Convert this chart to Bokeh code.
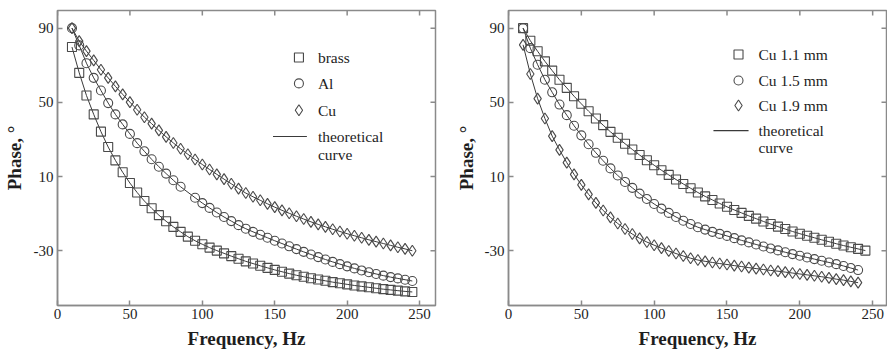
import math
from bokeh.plotting import figure
from bokeh.models import FixedTicker, Range1d
from bokeh.layouts import row
from bokeh.embed import file_html
from bokeh.resources import INLINE
from bokeh.core.properties import value

# ---------------- data ----------------
freq_48 = [10, 15, 20, 25, 30, 35, 40, 45, 50, 55, 60, 65, 70, 75, 80, 85, 90, 95,
           100, 105, 110, 115, 120, 125, 130, 135, 140, 145, 150, 155, 160, 165, 170,
           175, 180, 185, 190, 195, 200, 205, 210, 215, 220, 225, 230, 235, 240, 245]
freq_al = [10, 15, 20, 25, 30, 35, 40, 45, 50, 55, 60, 65, 70, 75, 80, 85, 95,
           100, 105, 110, 115, 120, 125, 130, 135, 140, 145, 150, 155, 160, 165, 170,
           175, 180, 185, 190, 195, 200, 205, 210, 215, 220, 225, 230, 235, 240, 245]
freq_47 = [10, 15, 20, 25, 30, 35, 40, 45, 50, 55, 60, 65, 70, 75, 80, 85, 90, 95,
           100, 105, 110, 115, 120, 125, 130, 135, 140, 145, 150, 155, 160, 165, 170,
           175, 180, 185, 190, 195, 200, 205, 210, 215, 220, 225, 230, 235, 240]

brass = [79.8, 65.9, 53.7, 43.5, 34.2, 25.9, 18.7, 12.3, 6.5, 1.4, -3.2, -7.1, -10.8,
         -14.1, -17.1, -19.8, -22.4, -24.6, -26.5, -28.3, -29.9, -31.4, -32.9, -34.3,
         -35.7, -36.9, -38.1, -39.2, -40.3, -41.3, -42.3, -43.2, -44.0, -44.8, -45.5,
         -46.2, -46.9, -47.5, -48.1, -48.7, -49.2, -49.7, -50.2, -50.7, -51.1, -51.5,
         -51.9, -52.2]
al = [90.0, 80.7, 71.1, 63.2, 56.4, 49.6, 43.5, 38.1, 33.0, 28.0, 23.6, 19.3, 15.3,
      11.6, 8.0, 4.5, -1.4, -4.3, -6.9, -9.4, -11.8, -14.0, -16.2, -18.1, -19.8,
      -21.4, -23.0, -24.6, -26.1, -27.6, -29.1, -30.6, -32.0, -33.4, -34.7, -36.0,
      -37.2, -38.4, -39.5, -40.6, -41.6, -42.5, -43.4, -44.2, -44.9, -45.6, -46.3]
cu = [90.0, 83.0, 77.6, 72.6, 67.6, 63.2, 58.6, 54.3, 50.1, 46.0, 42.0, 38.5, 34.9,
      31.4, 28.1, 25.0, 22.0, 19.2, 16.5, 13.8, 11.2, 8.6, 6.1, 3.5, 1.1, -0.9, -2.8,
      -4.7, -6.5, -8.2, -9.8, -11.4, -12.9, -14.4, -15.8, -17.1, -18.4, -19.6, -20.8,
      -21.9, -23.0, -24.1, -25.1, -26.1, -27.1, -28.1, -29.0, -30.0]

cu_11 = [90.0, 83.2, 77.5, 72.1, 67.1, 62.2, 57.8, 53.3, 49.2, 45.2, 41.3, 37.7, 34.1,
         30.9, 27.7, 24.6, 21.6, 18.8, 16.1, 13.4, 10.9, 8.4, 6.0, 3.7, 1.4, -0.7,
         -2.6, -4.5, -6.3, -8.0, -9.6, -11.2, -12.7, -14.2, -15.6, -17.0, -18.3,
         -19.6, -20.8, -21.9, -23.0, -24.1, -25.1, -26.2, -27.2, -28.1, -29.0, -29.9]
cu_15 = [90.0, 79.2, 70.3, 62.2, 55.4, 48.8, 43.1, 37.4, 32.2, 27.4, 22.8, 18.5, 14.4,
         10.6, 7.1, 3.9, 0.8, -2.1, -4.8, -7.3, -9.6, -11.8, -13.8, -15.6, -17.3,
         -18.6, -19.8, -20.9, -22.0, -23.2, -24.4, -25.5, -26.6, -27.7, -28.8, -29.8,
         -30.8, -31.8, -32.7, -33.6, -34.5, -35.4, -36.3, -37.2, -38.2, -39.3, -40.4]
cu_19 = [81.0, 65.3, 52.0, 41.3, 31.8, 24.4, 17.5, 11.2, 5.5, 0.4, -4.2, -8.3, -12.0,
         -15.3, -18.3, -21.0, -23.3, -25.3, -27.0, -28.6, -30.1, -31.5, -32.8, -34.0,
         -35.0, -35.7, -36.3, -36.9, -37.4, -38.0, -38.5, -39.1, -39.6, -40.1, -40.6,
         -41.0, -41.5, -42.0, -42.5, -43.0, -43.5, -44.0, -44.6, -45.3, -45.8, -46.5,
         -47.2]

x_ticks = [0, 50, 100, 150, 200, 250]
y_ticks = [90, 50, 10, -30]
y_tick_labels = {90: "90", 50: "50", 10: "10", -30: "-30"}

left_labels = ["brass", "Al", "Cu"]
right_labels = ["Cu 1.1 mm", "Cu 1.5 mm", "Cu 1.9 mm"]
curve_label = ["theoretical", "curve"]
x_title = "Frequency, Hz"
y_title = "Phase, \u00b0"

# ---------------- style ----------------
FONT = "Liberation Serif"
GRAY = "#8a8a8a"
TXT = "#1e1e1e"
MK = "#4a4a4a"
LN = "#3a3a3a"
markers = ["square", "circle", "diamond"]
msize = {"square": 9, "circle": 9, "diamond": 11}
Y_LO, Y_HI = -59.5, 99.5
HEIGHT = 354
B_TOP, B_BOTTOM = 10, 49


def make_fig(width, x_end, b_left, b_right, ylab_standoff):
    p = figure(width=width, height=HEIGHT, x_range=Range1d(0, x_end),
               y_range=Range1d(Y_LO, Y_HI), output_backend="svg",
               toolbar_location=None, min_border_left=b_left,
               min_border_right=b_right, min_border_top=B_TOP,
               min_border_bottom=B_BOTTOM,
               background_fill_color="white", border_fill_color="white")
    p.grid.visible = False
    p.outline_line_color = GRAY
    p.outline_line_width = 1.5
    for ax in (p.xaxis[0], p.yaxis[0]):
        ax.axis_line_color = GRAY
        ax.axis_line_width = 1.5
        ax.major_tick_line_color = GRAY
        ax.major_tick_line_width = 1.5
        ax.major_tick_in = 5
        ax.major_tick_out = 0
        ax.minor_tick_line_color = None
        ax.major_label_text_font = FONT
        ax.major_label_text_font_size = "15px"
        ax.major_label_text_color = TXT
        ax.axis_label_text_font = FONT
        ax.axis_label_text_font_size = "19px"
        ax.axis_label_text_font_style = "bold"
        ax.axis_label_text_color = TXT
    p.xaxis[0].ticker = FixedTicker(ticks=x_ticks, minor_ticks=[])
    p.yaxis[0].ticker = FixedTicker(ticks=y_ticks, minor_ticks=[])
    p.yaxis[0].major_label_overrides = y_tick_labels
    p.xaxis[0].axis_label = x_title
    p.yaxis[0].axis_label = y_title
    p.xaxis[0].major_label_standoff = 3
    p.xaxis[0].axis_label_standoff = 6
    p.yaxis[0].major_label_standoff = 4
    p.yaxis[0].axis_label_standoff = ylab_standoff
    # mirrored inward ticks on the top and right edges of the frame
    p.scatter(x_ticks, [Y_HI] * len(x_ticks), marker="dash", angle=math.pi / 2,
              size=10, line_color=GRAY, line_width=1.5)
    p.scatter([x_end] * len(y_ticks), y_ticks, marker="dash", size=10,
              line_color=GRAY, line_width=1.5)
    return p


def add_series(p, xs, ys, marker):
    p.line(xs, ys, line_color=LN, line_width=1)
    p.scatter(xs, ys, marker=marker, size=msize[marker], fill_color=None,
              line_color=MK, line_width=1.1)


def add_legend(p, labels, mx, my, tx, lx0, lx1, ly, cy):
    for lab, marker, yy in zip(labels, markers, my):
        p.scatter([mx], [yy], marker=marker, size=msize[marker], fill_color=None,
                  line_color=MK, line_width=1.1)
        p.text([tx], [yy], text=[lab], text_font=value(FONT), text_font_size="15.5px",
               text_color=TXT, text_baseline="middle", text_align="left")
    p.line([lx0, lx1], [ly, ly], line_color=LN, line_width=1.2)
    p.text([tx, tx], [ly, cy], text=curve_label, text_font=value(FONT),
           text_font_size="15.5px", text_color=TXT, text_baseline="middle",
           text_align="left")


# left panel
p1 = make_fig(451, 261, 56, 16, 6)
add_series(p1, freq_48, brass, "square")
add_series(p1, freq_al, al, "circle")
add_series(p1, freq_48, cu, "diamond")
add_legend(p1, left_labels, 166.7, [74.2, 60.2, 45.7], 179.8, 148.8, 172.2, 31.6, 22.0)

# right panel
p2 = make_fig(436, 259.5, 57, 1, 5)
add_series(p2, freq_48, cu_11, "square")
add_series(p2, freq_47, cu_15, "circle")
add_series(p2, freq_47, cu_19, "diamond")
add_legend(p2, right_labels, 157.9, [75.8, 61.8, 48.3], 171.6, 140.7, 164.8, 34.8, 25.6)

layout = row(p1, p2)
open("out.html", "w").write(file_html(layout, INLINE))
